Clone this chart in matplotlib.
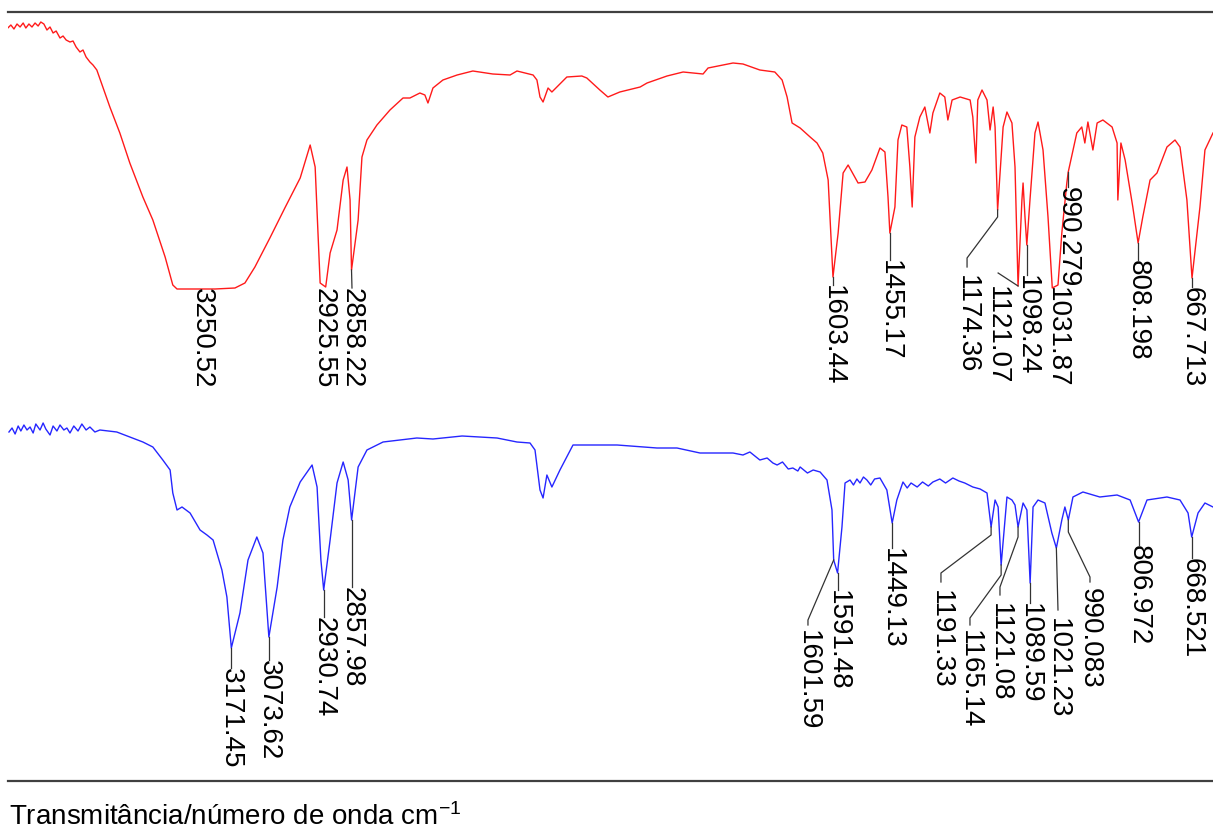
import matplotlib
matplotlib.use("Agg")
import matplotlib.pyplot as plt
import numpy as np

plt.rcParams["font.family"] = ["Liberation Sans", "DejaVu Sans"]
plt.rcParams["mathtext.fontset"] = "custom"
plt.rcParams["mathtext.rm"] = "Liberation Sans"
plt.rcParams["mathtext.it"] = "Liberation Sans:italic"

# wavenumber (cm-1) and transmittance (%)
red_wn = [3754, 3746, 3738, 3730, 3722, 3714, 3707, 3699, 3691, 3683, 3675, 3668, 3660,
          3652, 3644, 3636, 3628, 3618, 3610, 3602, 3592, 3584, 3576, 3566, 3558, 3550,
          3540, 3532, 3522, 3488, 3462, 3436, 3402, 3376, 3344, 3324, 3313, 3250.52, 3214,
          3162, 3136, 3110, 3071, 3032, 2992, 2966, 2953, 2940, 2925.55, 2914, 2896, 2880,
          2870, 2862, 2858.22, 2841, 2831, 2818, 2792, 2758, 2724, 2706, 2680, 2667, 2659,
          2646, 2620, 2583, 2542, 2490, 2445, 2427, 2385, 2375, 2367, 2359, 2346, 2336,
          2297, 2258, 2245, 2211, 2190, 2159, 2106, 2088, 2036, 1994, 1942, 1929, 1864,
          1838, 1794, 1755, 1736, 1723, 1710, 1689, 1663, 1645, 1630, 1616, 1603.44, 1590,
          1577, 1564, 1538, 1520, 1502, 1481, 1468, 1460, 1455.17, 1442, 1434, 1424, 1411,
          1403, 1397, 1390, 1377, 1364, 1351, 1343, 1325, 1312, 1304, 1293, 1272, 1246,
          1239, 1231, 1226, 1215, 1202, 1194, 1186, 1181, 1174.36, 1160, 1150, 1137, 1129,
          1121.07, 1111, 1108, 1103, 1098.24, 1090, 1077, 1069, 1056, 1043, 1031.87, 1017,
          1007, 994, 990.279, 968, 955, 947, 939, 926, 915, 900, 876, 863, 861, 853, 842,
          822, 808.198, 796, 777, 759, 733, 712, 699, 681, 667.713, 647, 634, 613]
red_t = [96, 96.75, 95.75, 97, 96.25, 97.25, 96, 97, 96.25, 97.25, 96.5, 97.5, 97,
         95.5, 96.25, 94.75, 95.25, 93.5, 94, 93, 92.5, 92.75, 91.25, 90, 90.5, 88.75,
         87.5, 86.75, 85.5, 76.25, 69.75, 62.25, 53.75, 48, 38.75, 31.75, 30.75, 30.75, 30.75,
         31, 32.25, 36.25, 43.5, 51, 58.5, 66.75, 61.25, 32.25, 31.25, 39.75, 45.5, 58,
         61.25, 53, 35.5, 48, 63.75, 68, 71.75, 75.5, 78.5, 78.5, 79.75, 79.25, 77.25,
         81, 83, 84.25, 85.25, 84.5, 84.25, 85.25, 84.25, 83, 78.75, 77.5, 81, 80,
         83.75, 84, 83.5, 80.5, 78.75, 80, 81.25, 82.25, 84, 85, 84.5, 86, 87.25,
         87, 85.5, 85, 83, 78.75, 72.25, 71, 68.75, 67.25, 64.75, 58, 33.75, 44.75,
         59.75, 61.75, 57.25, 57.5, 60.5, 66, 65, 53.75, 44.75, 51.25, 68, 71.75, 71.25,
         61.25, 51.25, 68.75, 73.75, 76.25, 69.75, 74.75, 79.75, 78.75, 73, 78, 78.75, 78,
         73.75, 62.25, 78, 80.5, 78, 70.5, 76.25, 71.25, 50.5, 71.25, 75, 72.25, 61.25,
         31.5, 53, 57.25, 48.75, 41.75, 53, 69.75, 72.5, 65.5, 48.75, 31, 31.75,
         44.75, 57.25, 60, 69.75, 71.25, 67.25, 72.5, 65.5, 72.25, 73, 71.25, 67.25, 53, 67.25, 63,
         51.25, 42.25, 48.75, 58, 59.75, 66.25, 68, 66.25, 53, 33.5, 51.25, 65.5, 69.75]

blue_wn = [3751, 3743, 3735, 3727, 3720, 3712, 3704, 3696, 3688, 3681, 3670, 3662, 3655,
           3644, 3636, 3626, 3618, 3608, 3600, 3592, 3582, 3571, 3561, 3550, 3540, 3527,
           3514, 3470, 3436, 3402, 3376, 3350, 3331, 3324, 3313, 3300, 3279, 3253, 3235,
           3219, 3196, 3183, 3171.45, 3149, 3128, 3105, 3089, 3073.62, 3052, 3037, 3019,
           2992, 2961, 2948, 2938, 2930.74, 2914, 2896, 2880, 2867, 2857.98, 2841, 2818,
           2776, 2732, 2688, 2646, 2570, 2479, 2427, 2393, 2380, 2367, 2359, 2349, 2336,
           2315, 2281, 2166, 2062, 2010, 1950, 1864, 1838, 1820, 1794, 1775, 1760, 1749,
           1735, 1720, 1708, 1695, 1689, 1670, 1655, 1637, 1619, 1606, 1601.59, 1591.48,
           1580, 1572, 1559, 1550, 1541, 1533, 1524, 1515, 1505, 1495, 1481, 1463, 1449.13,
           1437, 1421, 1410, 1400, 1384, 1370, 1355, 1343, 1325, 1310, 1291, 1275, 1260,
           1239, 1220, 1202, 1191.33, 1181, 1173, 1165.14, 1150, 1137, 1129, 1121.08, 1108,
           1098, 1089.59, 1082, 1069, 1051, 1033, 1021.23, 1007, 999, 990.083, 978, 952,
           908, 863, 829, 806.972, 785, 733, 699, 678, 668.521, 652, 634, 613]
blue_t = [87.25, 88.25, 86.75, 88.75, 87.5, 89, 87.75, 88.5, 87, 89.25, 87.75, 89.5, 88,
          86.5, 88.75, 87.5, 89, 87.75, 88.25, 87, 88.75, 87.5, 89.25, 87.75, 88.5, 87.25,
          87.75, 87.25, 86, 84.75, 83.5, 80.25, 77.75, 72, 67.75, 68.5, 67, 62.75, 61.5,
          60.25, 52.75, 46, 33.25, 42, 55.25, 61, 57, 36, 48.5, 60.25, 68.5,
          74.75, 79, 73.5, 55.25, 47.75, 60.25, 74.5, 79.75, 75.25, 65.25, 78.5, 82.75,
          84.75, 85.25, 85.75, 85.5, 86.25, 85.75, 84.75, 84.5, 82.75, 72.75, 70.75, 76.5, 73.5,
          77.75, 84, 84, 83.25, 83.25, 82, 82, 81.5, 82.25, 80.25, 80.75, 79.5, 79,
          79.75, 78, 78.25, 77.5, 78.5, 77, 77.75, 77.25, 75.25, 67.75, 55.25, 52,
          63.5, 74.5, 75.25, 74, 75.5, 74.5, 76, 75.25, 74, 75.5, 75.75, 72.75, 64.5,
          70.25, 74.75, 73.25, 74.5, 73.5, 74.75, 73.75, 74.75, 75.5, 74.5, 75.75, 75, 74.5,
          73.5, 73, 72, 63.5, 70.25, 68.5, 54, 71, 70.25, 69, 63.5, 69.5,
          67.75, 49.5, 68.5, 70.25, 69.5, 62, 58.25, 65.25, 68.5, 65.25, 71, 72.25,
          71, 71.5, 70.25, 64.75, 70.25, 71, 70.25, 67, 61, 67, 69.5, 68.5]

red_peaks = ["3250.52", "2925.55", "2858.22", "1603.44", "1455.17", "1174.36", "1121.07",
             "1098.24", "1031.87", "990.279", "808.198", "667.713"]
blue_peaks = ["3171.45", "3073.62", "2930.74", "2857.98", "1601.59", "1591.48", "1449.13",
              "1191.33", "1165.14", "1121.08", "1089.59", "1021.23", "990.083", "806.972",
              "668.521"]

# label placement: text centre (wn), text top (T), leader points after the peak point
red_layout = {
    "3250.52": (3248, 31.0, []),
    "2925.55": (2932, 31.0, []),
    "2858.22": (2857, 31.0, [(2857, 31.0)]),
    "1603.44": (1603.44, 31.75, [(1603.44, 31.75)]),
    "1455.17": (1455.17, 38.0, [(1455.17, 38.0)]),
    "1174.36": (1254, 34.25, [(1174.36, 48.75), (1254, 38.5), (1254, 36.25)]),
    "1121.07": (1176, 31.5, [(1173, 34.75)]),
    "1098.24": (1098.24, 34.25, [(1098.24, 34.25)]),
    "1031.87": (1019.6, 31.25, []),
    "990.279": (990.279, 56.25, [(990.279, 56.25)]),
    "808.198": (808.198, 38.0, [(808.198, 38.0)]),
    "667.713": (667.713, 31.25, [(667.713, 31.25)]),
}
blue_layout = {
    "3171.45": (3171.45, 28.25, [(3171.45, 28.25)]),
    "3073.62": (3073.62, 30.25, [(3073.62, 30.25)]),
    "2930.74": (2930.74, 41.0, [(2930.74, 41.0)]),
    "2857.98": (2857.98, 48.5, [(2857.98, 48.5)]),
    "1601.59": (1668.6, 37.75, [(1668.6, 40.25), (1668.6, 39.0)]),
    "1591.48": (1591.48, 47.75, [(1591.48, 47.75)]),
    "1449.13": (1449.13, 58.25, [(1449.13, 58.25)]),
    "1191.33": (1322, 47.75, [(1191.33, 61.5), (1322, 52), (1322, 49.75)]),
    "1165.14": (1246.4, 37.75, [(1165.14, 51.5), (1246.4, 40.75), (1246.4, 39)]),
    "1121.08": (1168.2, 44.5, [(1121.08, 61), (1168.2, 48.5), (1168.2, 46.5)]),
    "1089.59": (1089.59, 44.5, [(1089.59, 44.5)]),
    "1021.23": (1017, 40.75, [(1017, 42.75)]),
    "990.083": (933.6, 48.25, [(990.083, 62.25), (933.6, 51), (933.6, 49.75)]),
    "806.972": (806.972, 59.0, [(806.972, 59.0)]),
    "668.521": (668.521, 55.75, [(668.521, 55.75)]),
}

W, H = 1213, 832
fig = plt.figure(figsize=(W / 100, H / 100), dpi=100)
fig.patch.set_facecolor("white")

ax_top = fig.add_axes([8 / W, 1 - 412 / H, 1205 / W, 400 / H])
ax_bot = fig.add_axes([8 / W, 1 - 781 / H, 1205 / W, 400 / H])


def draw_spectrum(ax, wn, t, peaks, layout, color, spine):
    ax.set_facecolor("none")
    ax.plot(wn, t, color=color, lw=1.0)
    wn_arr = np.array(wn)[::-1]
    t_arr = np.array(t)[::-1]
    for lab in peaks:
        p = float(lab)
        tx, ty, pts = layout[lab]
        if pts:
            path = [(p, np.interp(p, wn_arr, t_arr))] + pts
            xs, ys = zip(*path)
            ax.plot(xs, ys, color="#333333", lw=0.9, clip_on=False)
        ax.text(tx, ty, lab, rotation=-90, ha="center", va="top",
                fontsize=20, color="black", clip_on=False)
    ax.set_xlim(3753.5, 613.0)
    ax.set_ylim(0, 100)
    ax.set_xticks([])
    ax.set_yticks([])
    for s in ax.spines.values():
        s.set_visible(False)
    ax.spines[spine].set_visible(True)
    ax.spines[spine].set_color("#404040")
    ax.spines[spine].set_linewidth(1.6)


draw_spectrum(ax_top, red_wn, red_t, red_peaks, red_layout, "#ff1a1a", "top")
draw_spectrum(ax_bot, blue_wn, blue_t, blue_peaks, blue_layout, "#2626ff", "bottom")

fig.text(9 / W, 1 - 825 / H, "Transmitância/número de onda cm$^{-1}$",
         fontsize=20, ha="left", va="baseline")

fig.savefig("out.png", dpi=100)
